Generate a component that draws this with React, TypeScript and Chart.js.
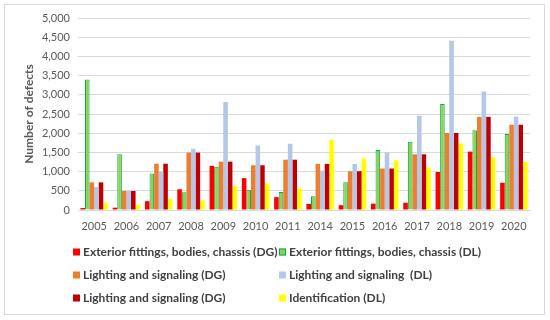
import React, { useEffect, useRef } from "react";
import { Chart, registerables } from "chart.js";

Chart.register(...registerables);

const years = ["2005", "2006", "2007", "2008", "2009", "2010", "2011", "2014", "2015", "2016", "2017", "2018", "2019", "2020"];

const extDG = [50, 60, 230, 540, 1150, 830, 335, 160, 125, 165, 190, 990, 1520, 710];
const extDL = [3400, 1450, 950, 460, 1125, 525, 470, 355, 725, 1565, 1780, 2760, 2080, 1980];
const lightDG = [720, 495, 1205, 1495, 1260, 1165, 1310, 1200, 1010, 1080, 1450, 2005, 2425, 2220];
const lightDL = [600, 495, 1000, 1595, 2810, 1680, 1725, 1025, 1200, 1495, 2455, 4405, 3085, 2435];
const lightDG2 = [720, 495, 1205, 1495, 1260, 1165, 1310, 1200, 1010, 1080, 1450, 2005, 2425, 2220];
const identDL = [180, 135, 290, 250, 635, 695, 565, 1830, 1340, 1290, 1105, 1735, 1370, 1250];

const seriesLabels = [
  "Exterior fittings, bodies, chassis (DG)",
  "Exterior fittings, bodies, chassis (DL)",
  "Lighting and signaling (DG)",
  "Lighting and signaling  (DL)",
  "Lighting and signaling (DG)",
  "Identification (DL)",
];
const seriesColors = ["#FF0000", "#92D050", "#ED7D31", "#B4C7E7", "#C00000", "#FFFF00"];
const seriesBorders = ["#FF0000", "#00B050", "#ED7D31", "#B4C7E7", "#C00000", "#FFFF00"];
const yTitle = "Number of defects";

const FONT = "Lato, 'Liberation Sans', sans-serif";

const decorPlugin = {
  id: "decor",
  beforeDraw(chart: any) {
    const ctx = chart.ctx;
    ctx.save();
    ctx.fillStyle = "#ffffff";
    ctx.fillRect(0, 0, chart.width, chart.height);
    ctx.strokeStyle = "#d9d9d9";
    ctx.lineWidth = 1;
    ctx.strokeRect(4.5, 4.5, 540, 310);
    ctx.restore();
  },
  afterDraw(chart: any) {
    const ctx = chart.ctx;
    ctx.save();
    // y title
    ctx.translate(29, 114);
    ctx.rotate(-Math.PI / 2);
    ctx.fillStyle = "#595959";
    ctx.font = "bold 12px " + FONT;
    ctx.textAlign = "center";
    ctx.textBaseline = "middle";
    ctx.fillText(yTitle, 0, 0);
    ctx.restore();

    // legend, two columns
    ctx.save();
    ctx.font = "bold 12px " + FONT;
    ctx.textBaseline = "middle";
    ctx.textAlign = "left";
    const colX = [73, 279];
    const rowY = [252, 275, 298];
    chart.data.datasets.forEach((ds: any, i: number) => {
      const c = i % 2;
      const r = Math.floor(i / 2);
      const x = colX[c];
      const y = rowY[r];
      ctx.fillStyle = ds.backgroundColor;
      ctx.fillRect(x, y - 3.5, 7, 7);
      if (ds.borderWidth) {
        ctx.strokeStyle = ds.borderColor;
        ctx.lineWidth = 1;
        ctx.strokeRect(x + 0.5, y - 3, 6, 6);
      }
      ctx.fillStyle = "#404040";
      ctx.fillText(ds.label, x + 10, y);
    });
    ctx.restore();
  },
};

export default function App() {
  const ref = useRef<HTMLCanvasElement | null>(null);
  useEffect(() => {
    if (!ref.current) return;
    const lists = [extDG, extDL, lightDG, lightDL, lightDG2, identDL];
    const chart = new Chart(ref.current, {
      type: "bar",
      data: {
        labels: years,
        datasets: lists.map((d, i) => ({
          label: seriesLabels[i],
          data: d,
          backgroundColor: seriesColors[i],
          borderColor: seriesBorders[i],
          borderWidth: i === 1 ? 1 : 0,
          categoryPercentage: 0.85,
          barPercentage: 1,
        })),
      },
      options: {
        animation: false,
        responsive: false,
        maintainAspectRatio: false,
        layout: { padding: { top: 18, right: 20, bottom: 0, left: 0 } },
        plugins: { legend: { display: false }, tooltip: { enabled: false } },
        scales: {
          x: {
            grid: { display: false, drawTicks: false },
            border: { display: true, color: "#d9d9d9" },
            ticks: { color: "#595959", font: { family: FONT, size: 11 }, padding: 10, maxRotation: 0 },
            afterFit: (s: any) => { s.height = 110; },
          },
          y: {
            min: 0,
            max: 5000,
            ticks: {
              stepSize: 500,
              color: "#595959",
              font: { family: FONT, size: 11 },
              padding: 8,
              callback: (v: any) => Number(v).toLocaleString("en-US"),
            },
            grid: { color: "#d9d9d9", drawTicks: false },
            border: { display: false },
            afterFit: (s: any) => { s.width = 78; },
          },
        },
      },
      plugins: [decorPlugin],
    });
    return () => chart.destroy();
  }, []);
  return (
    <div style={{ position: "absolute", left: 0, top: 0, width: 550, height: 320, background: "#fff" }}>
      <canvas ref={ref} width={550} height={320} style={{ display: "block", width: 550, height: 320 }} />
    </div>
  );
}
